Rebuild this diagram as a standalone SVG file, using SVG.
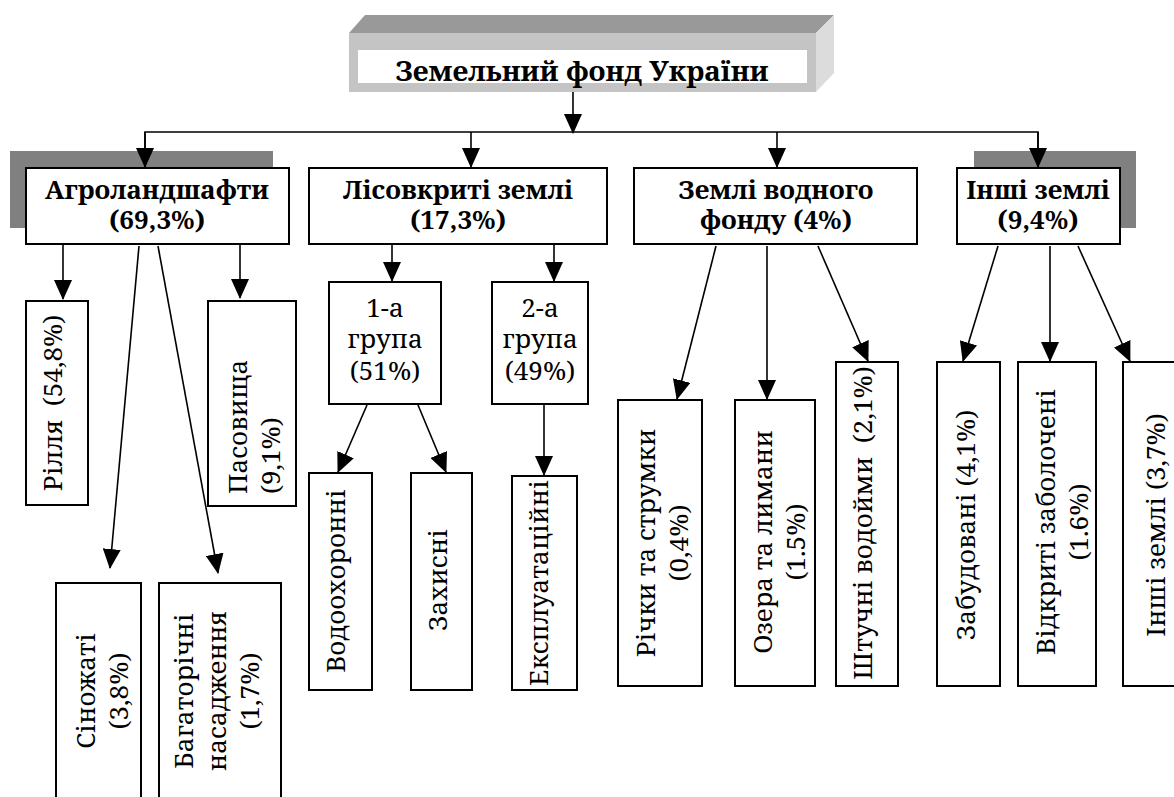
<svg xmlns="http://www.w3.org/2000/svg" width="1174" height="797" viewBox="0 0 1174 797">
<style>
.box{fill:#fff;stroke:#000;stroke-width:2}
.shadow{fill:#808080}
text{font-family:'Noto Serif','DejaVu Serif','Liberation Serif',serif;fill:#000}
.b{font-weight:bold;font-size:26px;text-anchor:middle}
.r{font-size:26px}
.m{text-anchor:middle}
.c{stroke:#000;stroke-width:1.6;fill:none}
.a{marker-end:url(#ah)}
</style>
<defs>
<marker id="ah" markerUnits="userSpaceOnUse" markerWidth="20" markerHeight="18" refX="19" refY="9" orient="auto">
<path d="M0,0 L20,9 L0,18 z" fill="#000"/>
</marker>
</defs>
<rect width="1174" height="797" fill="#fff"/>

<g id="title">
<polygon points="349,33 365,15 834,15 816,33" fill="#999"/>
<polygon points="816,33 834,15 834,73 816,92" fill="#dcdcdc"/>
<rect x="349" y="33" width="467" height="59" fill="#c4c4c4"/>
<rect x="358" y="50" width="449" height="33" fill="#fff"/>
<text class="b" x="582" y="81" style="font-size:28px">Земельний фонд України</text>
</g>

<g id="agro">
<rect class="shadow" x="10" y="151" width="263" height="77"/>
<rect class="box" x="26" y="168" width="263" height="76"/>
<text class="b"><tspan x="157" y="199">Агроландшафти</tspan><tspan x="157" y="229">(69,3%)</tspan></text>
</g>

<g id="forest">
<rect class="box" x="309" y="168" width="298" height="76"/>
<text class="b"><tspan x="458" y="199">Лісовкриті землі</tspan><tspan x="458" y="229">(17,3%)</tspan></text>
</g>

<g id="water">
<rect class="box" x="634" y="168" width="283" height="76"/>
<text class="b"><tspan x="776" y="199">Землі водного</tspan><tspan x="776" y="229">фонду (4%)</tspan></text>
</g>

<g id="other">
<rect class="shadow" x="974" y="151" width="162" height="77"/>
<rect class="box" x="957" y="168" width="163" height="76"/>
<text class="b"><tspan x="1038" y="199">Інші землі</tspan><tspan x="1038" y="229">(9,4%)</tspan></text>
</g>

<g id="rillia">
<rect class="box" x="26" y="301" width="62" height="204"/>
<text class="r m" transform="translate(62,403) rotate(-90)" xml:space="preserve">Рілля  (54,8%)</text>
</g>
<g id="pasovyshcha">
<rect class="box" x="208" y="301" width="88" height="205"/>
<text class="r" transform="translate(247,494) rotate(-90)"><tspan x="0" y="0">Пасовища</tspan><tspan x="0" y="33">(9,1%)</tspan></text>
</g>
<g id="sinozhati">
<rect class="box" x="56" y="583" width="85" height="230"/>
<text class="r m" transform="translate(95,691) rotate(-90)"><tspan x="0" y="0">Сіножаті</tspan><tspan x="0" y="33">(3,8%)</tspan></text>
</g>
<g id="bahatorichni">
<rect class="box" x="159" y="583" width="122" height="230"/>
<text class="r m" transform="translate(193,691) rotate(-90)"><tspan x="0" y="0">Багаторічні</tspan><tspan x="0" y="33">насадження</tspan><tspan x="0" y="66">(1,7%)</tspan></text>
</g>

<g id="group1">
<rect class="box" x="329" y="282" width="112" height="122"/>
<text class="r m"><tspan x="385" y="317">1-а</tspan><tspan x="385" y="348">група</tspan><tspan x="385" y="380">(51%)</tspan></text>
</g>
<g id="group2">
<rect class="box" x="492" y="282" width="96" height="122"/>
<text class="r m"><tspan x="540" y="317">2-а</tspan><tspan x="540" y="348">група</tspan><tspan x="540" y="380">(49%)</tspan></text>
</g>
<g id="vodookhoronni">
<rect class="box" x="309" y="473" width="63" height="217"/>
<text class="r m" transform="translate(345,581) rotate(-90)">Водоохоронні</text>
</g>
<g id="zakhysni">
<rect class="box" x="411" y="473" width="61" height="217"/>
<text class="r m" transform="translate(447,580) rotate(-90)">Захисні</text>
</g>
<g id="ekspluatatsiini">
<rect class="box" x="512" y="476" width="65" height="214"/>
<text class="r m" transform="translate(548,583) rotate(-90)">Експлуатаційні</text>
</g>

<g id="richky">
<rect class="box" x="618" y="400" width="84" height="286"/>
<text class="r m" transform="translate(655,543) rotate(-90)"><tspan x="0" y="0">Річки та струмки</tspan><tspan x="0" y="33">(0,4%)</tspan></text>
</g>
<g id="ozera">
<rect class="box" x="735" y="400" width="80" height="286"/>
<text class="r m" transform="translate(772,542) rotate(-90)"><tspan x="0" y="0">Озера та лимани</tspan><tspan x="0" y="33">(1.5%)</tspan></text>
</g>
<g id="shtuchni">
<rect class="box" x="836" y="362" width="62" height="324"/>
<text class="r m" transform="translate(872,523) rotate(-90)" xml:space="preserve">Штучні водойми  (2,1%)</text>
</g>

<g id="zabudovani">
<rect class="box" x="937" y="362" width="63" height="324"/>
<text class="r m" transform="translate(975,525) rotate(-90)">Забудовані (4,1%)</text>
</g>
<g id="vidkryti">
<rect class="box" x="1018" y="362" width="78" height="324"/>
<text class="r m" transform="translate(1055,522) rotate(-90)"><tspan x="0" y="0">Відкриті заболочені</tspan><tspan x="0" y="33">(1.6%)</tspan></text>
</g>
<g id="inshi-zemli">
<rect class="box" x="1123" y="362" width="70" height="324"/>
<text class="r m" transform="translate(1165,525) rotate(-90)">Інші землі (3,7%)</text>
</g>

<g id="connectors">
<line class="c a" x1="573" y1="92" x2="573" y2="133"/>
<polyline class="c" points="145,150 145,132 1038,132 1038,150"/>
<line class="c a" x1="145" y1="132" x2="145" y2="167"/>
<line class="c a" x1="471" y1="132" x2="471" y2="167"/>
<line class="c a" x1="777" y1="132" x2="777" y2="167"/>
<line class="c a" x1="1038" y1="132" x2="1038" y2="167"/>
<line class="c a" x1="63" y1="245" x2="63" y2="299"/>
<line class="c a" x1="139" y1="246" x2="110" y2="568"/>
<line class="c a" x1="158" y1="246" x2="218" y2="573"/>
<line class="c a" x1="240" y1="245" x2="240" y2="298"/>
<line class="c a" x1="392" y1="245" x2="392" y2="281"/>
<line class="c a" x1="554" y1="245" x2="554" y2="281"/>
<line class="c a" x1="367" y1="405" x2="338" y2="472"/>
<line class="c a" x1="418" y1="405" x2="446" y2="472"/>
<line class="c a" x1="544" y1="405" x2="544" y2="475"/>
<line class="c a" x1="716" y1="246" x2="677" y2="399"/>
<line class="c a" x1="767" y1="246" x2="767" y2="399"/>
<line class="c a" x1="818" y1="246" x2="868" y2="361"/>
<line class="c a" x1="998" y1="246" x2="963" y2="361"/>
<line class="c a" x1="1050" y1="246" x2="1050" y2="361"/>
<line class="c a" x1="1078" y1="246" x2="1130" y2="361"/>
</g>
</svg>
